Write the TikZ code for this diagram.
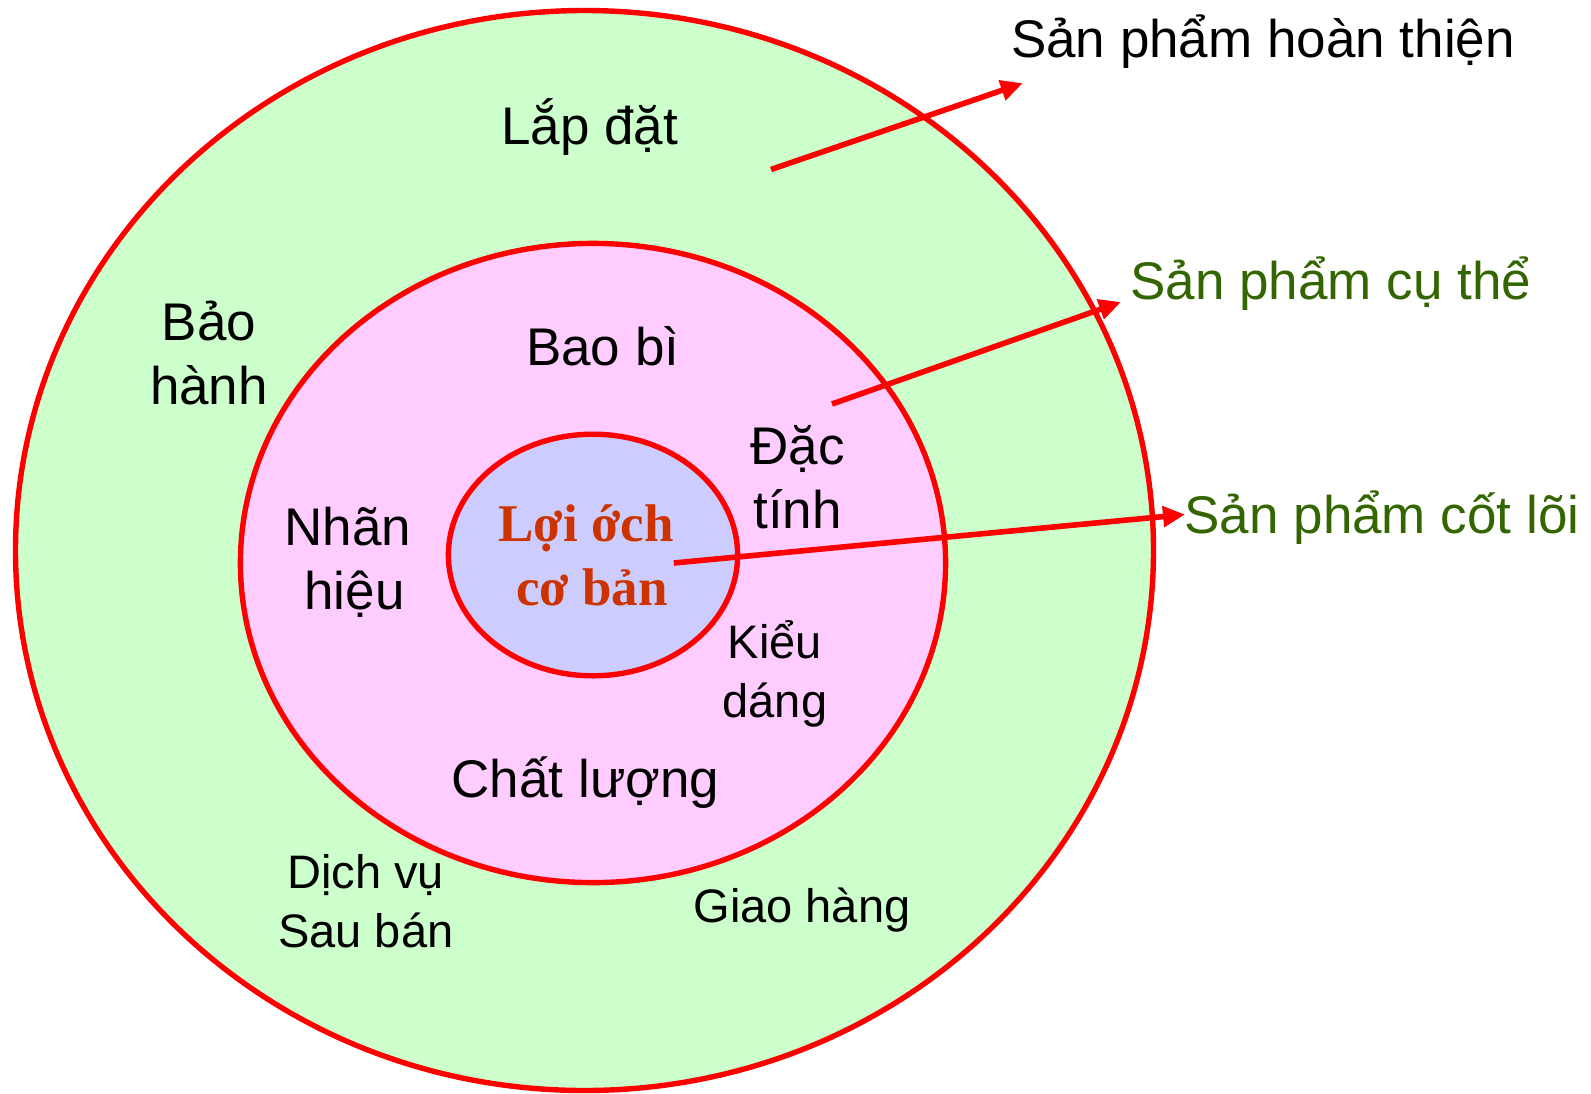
\documentclass[tikz,border=0pt]{standalone}
\usepackage{fontspec}
\setmainfont{Liberation Sans}
\newfontfamily\coreserif{Liberation Serif}
\usetikzlibrary{shapes.geometric,arrows.meta}
\definecolor{ringred}{HTML}{FF0000}
\definecolor{outergreen}{HTML}{CCFFCC}
\definecolor{midpink}{HTML}{FFCCFF}
\definecolor{corelav}{HTML}{CCCCFF}
\definecolor{labgreen}{HTML}{336600}
\definecolor{corered}{HTML}{CC3300}
\tikzset{
  ring/.style={ellipse, draw=ringred, line width=2.7pt, inner sep=0pt},
  lbl/.style={font=\fontsize{26.5}{32}\selectfont, inner sep=0pt, anchor=base, align=center},
  sml/.style={font=\fontsize{23.5}{29.5}\selectfont, inner sep=0pt, anchor=base, align=center},
  corelbl/.style={font=\coreserif\bfseries\fontsize{26.5}{32}\selectfont, text=corered, inner sep=0pt, anchor=base, align=center},
  arr/.style={draw=ringred, line width=2.8pt, -{Triangle[length=11pt,width=10pt]}}
}
\begin{document}
\begin{tikzpicture}[x=0.5pt,y=-0.5pt]
\useasboundingbox[fill=white] (0,0) rectangle (1591,1093);
\node[ring, fill=outergreen, minimum width=569pt, minimum height=540pt] (outer) at (584.5,550.5) {};
\node[ring, fill=midpink, minimum width=352.6pt, minimum height=319.6pt] (mid) at (593,563) {};
\node[ring, fill=corelav, minimum width=144.6pt, minimum height=120.8pt] (core) at (593,555) {};

% multi-line labels: anchor=base sits on the last line
\node[lbl] (lapdat) at (589.5,144) {Lắp đặt};
\node[lbl] (baohanh) at (209,404) {Bảo\\hành};
\node[lbl] (baobi) at (602.7,365) {Bao bì};
\node[lbl] (dactinh) at (797.6,528) {Đặc\\tính};
\node[lbl] (nhanhieu) at (348,609) {Nhãn\\\hspace*{6.5pt}hiệu};
\node[corelbl] (loiich) at (586,605) {Lợi ớch\\\hspace*{6pt}cơ bản};
\node[sml] (kieudang) at (775,717) {Kiểu\\dáng};
\node[lbl] (chatluong) at (585.5,797.6) {Chất lượng};
\node[sml] (dichvu) at (365.8,947) {Dịch vụ\\Sau bán};
\node[sml] (giaohang) at (802,922) {Giao hàng};

\node[lbl] (hoanthien) at (1263,57.8) {Sản phẩm hoàn thiện};
\node[lbl, text=labgreen] (cuthe) at (1330.8,299) {Sản phẩm cụ thể};
\node[lbl, text=labgreen] (cotloi) at (1382,533) {Sản phẩm cốt lõi};

\coordinate (a1s) at (771,169.5);
\coordinate (a1e) at (1022.8,83.2);
\coordinate (a2s) at (832,404);
\coordinate (a2e) at (1121,302);
\coordinate (a3s) at (673.8,563);
\coordinate (a3e) at (1185,514.5);
\draw[arr] (a1s) -- (a1e);
\draw[arr] (a2s) -- (a2e);
\draw[arr] (a3s) -- (a3e);
\end{tikzpicture}
\end{document}
